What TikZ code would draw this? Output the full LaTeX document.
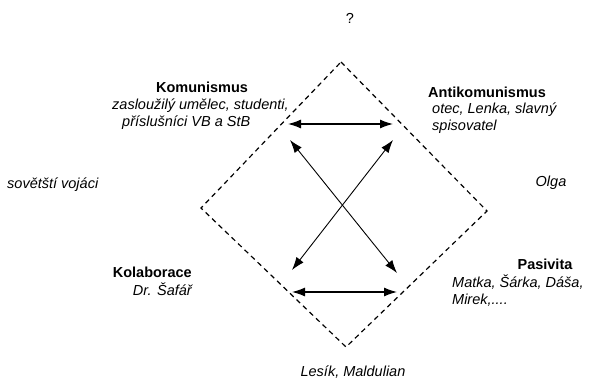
\documentclass[tikz,border=0pt]{standalone}
\usepackage{fontspec}
\setmainfont{Liberation Sans}
\usetikzlibrary{arrows.meta}

\begin{document}
\begin{tikzpicture}[x=1pt,y=-1pt,
    every node/.style={inner sep=0pt,font=\fontsize{14.5}{17}\selectfont},
    head/.style={font=\fontsize{14.5}{17}\selectfont\bfseries},
    who/.style={font=\fontsize{14.5}{17}\selectfont\itshape,align=left},
    link/.style={{Latex[length=13pt,width=9pt]}-{Latex[length=13pt,width=9pt]},line width=1.2pt},
    frame/.style={dashed,dash pattern=on 5pt off 4pt,line width=1.2pt}]
     \useasboundingbox (0,0) rectangle (590,380);
     % corners of the square
     \coordinate (top) at (341,62);
     \coordinate (right) at (487,211);
     \coordinate (bottom) at (346,347);
     \coordinate (left) at (201,208);
     \draw [frame] (top) -- (right) -- (bottom) -- (left) -- cycle;
     % arrow ends
     \coordinate (kom) at (288,124);
     \coordinate (anti) at (393,124);
     \coordinate (kol) at (292,292);
     \coordinate (pas) at (397,292);
     \coordinate (kom2) at (290,140);
     \coordinate (anti2) at (393,140);
     \coordinate (kol2) at (292,270);
     \coordinate (pas2) at (397,273);
     \draw [link] (kom) to (anti);
     \draw [link] (kol) to (pas);
     \draw [link,line width=0.9pt] (kom2) to (pas2);
     \draw [link,line width=0.9pt] (anti2) to (kol2);
     % labels
     \node (ask) at (350,18) {?};
     \node [head] (komhead) at (202,87) {Komunismus};
     \node [who,anchor=west] (komwho) at (112,114) {zasloužilý umělec, studenti,\\\hspace*{10pt}příslušníci VB a StB};
     \node [head,anchor=west] (antihead) at (428,92) {Antikomunismus};
     \node [who,anchor=west] (antiwho) at (432,118.5) {otec, Lenka, slavný\\spisovatel};
     \node [who,anchor=west] (sov) at (7,185) {sovětští vojáci};
     \node [who] (olga) at (551,183) {Olga};
     \node [head,anchor=east] (kolhead) at (192,272) {Kolaborace};
     \node [who,anchor=east] (kolwho) at (192,289) {Dr. Šafář};
     \node [head] (pashead) at (545,264) {Pasivita};
     \node [who,anchor=west] (paswho) at (452,291) {Matka, Šárka, Dáša,\\Mirek,....};
     \node [who] (les) at (353,372) {Lesík, Maldulian};
\end{tikzpicture}
\end{document}
